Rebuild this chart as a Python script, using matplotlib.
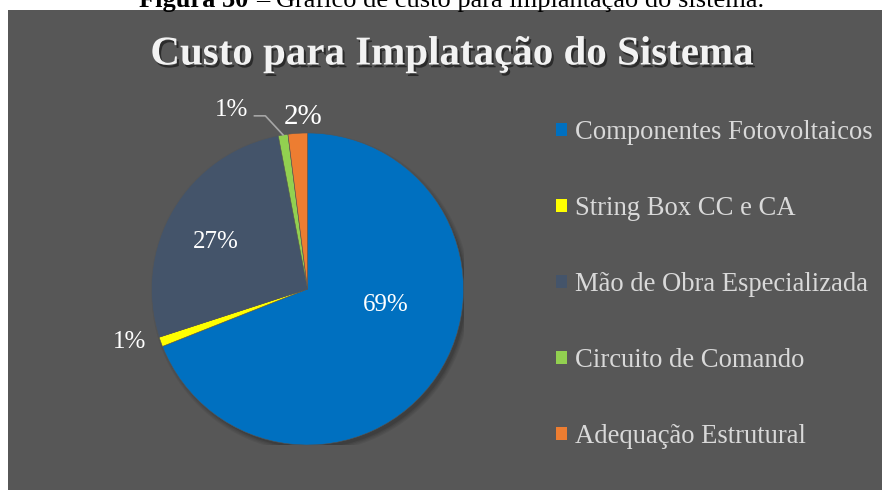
import matplotlib.pyplot as plt
import matplotlib.patheffects as pe
from matplotlib.patches import Patch, Circle, Rectangle
from matplotlib.font_manager import FontProperties
import numpy as np

categories = ["Componentes Fotovoltaicos", "String Box CC e CA",
              "Mão de Obra Especializada", "Circuito de Comando",
              "Adequação Estrutural"]
shares = [69, 1, 27, 1, 2]
colors = ["#0070C0", "#FFFF00", "#44546A", "#92D050", "#ED7D31"]

# where each percentage label sits, in pie units (radius = 1)
label_pos = [(0.50, -0.10), (-1.14, -0.34), (-0.59, 0.30), (-0.49, 1.15), (-0.03, 1.10)]
label_size = [18, 18, 18, 18, 21]

W, H = 882, 490
fig = plt.figure(figsize=(W / 100, H / 100), dpi=100)
fig.patch.set_facecolor("white")
renderer = fig.canvas.get_renderer()

# dark chart panel below the caption
fig.add_artist(Rectangle((8 / W, 0), 1 - 8 / W, 1 - 10 / H, transform=fig.transFigure,
                         facecolor="#575757", edgecolor="none", zorder=0))

# caption: bold figure number followed by the description
cap = fig.text(139 / W, 1 - 7 / H, "Figura 30 ", fontsize=19, fontweight="bold",
               family="Liberation Serif", color="black", ha="left", va="baseline")
x_next = cap.get_window_extent(renderer).x1 + 1
fig.text(x_next / W, 1 - 7 / H, "– Gráfico de custo para implantação do sistema.",
         fontsize=19, family="Liberation Serif", color="black", ha="left", va="baseline")

fig.text(452 / W, 1 - 55 / H, "Custo para Implatação do Sistema", fontsize=29.5,
         fontweight="bold", family="Liberation Serif", color="#F2F2F2",
         ha="center", va="center",
         path_effects=[pe.withSimplePatchShadow(offset=(1.5, -2), shadow_rgbFace="black", alpha=0.5)])

cx, cy, r = 307.5, 289, 156
ax = fig.add_axes([(cx - r) / W, (H - cy - r) / H, 2 * r / W, 2 * r / H])
ax.set_facecolor("none")

# soft drop shadow behind the pie
for k, a in enumerate([0.06, 0.06, 0.08, 0.1]):
    ax.add_patch(Circle((0.02, -0.025), 1.02 - 0.008 * k, facecolor="black",
                        edgecolor="none", alpha=a, zorder=0))

wedges, _ = ax.pie(shares, colors=colors, startangle=90, counterclock=False,
                   radius=1, wedgeprops=dict(linewidth=0.4, edgecolor="#555555"))
for w in wedges:
    w.set_zorder(2)

for (x, y), v, s in zip(label_pos, shares, label_size):
    ax.text(x, y, f"{v}%", fontsize=s, family="Liberation Serif", color="white",
            ha="center", va="center", zorder=3)

# leader line for the small green slice
start = np.cumsum([0] + shares)[3]
mid = np.deg2rad(90 - 360 * (start + shares[3] / 2) / sum(shares))
ax.plot([-0.34, -0.27, np.cos(mid)], [1.11, 1.11, np.sin(mid)],
        color="#A6A6A6", lw=1.2, zorder=3, clip_on=False)

ax.set_xlim(-1, 1)
ax.set_ylim(-1, 1)
ax.set_aspect("equal")
ax.axis("off")

handles = [Patch(facecolor=c, edgecolor="none") for c in colors]
fig.legend(handles, categories, loc="upper left", bbox_to_anchor=(556 / W, 1 - 120 / H),
           frameon=False, prop=FontProperties(family="Liberation Serif", size=19.2),
           labelcolor="#D9D9D9", handlelength=0.4, handleheight=0.4,
           handletextpad=0.33, labelspacing=1.915, borderpad=0, borderaxespad=0)

fig.savefig("out.png", dpi=100, facecolor="white")
